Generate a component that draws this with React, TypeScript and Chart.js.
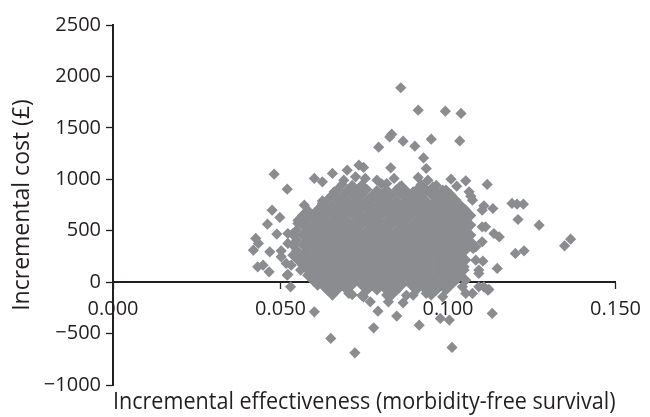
import React, { useEffect, useRef } from 'react';
import { Chart, registerables } from 'chart.js';

Chart.register(...registerables);

// Tick values and labels
const xTickValues = [0, 0.05, 0.1, 0.15];
const xTickLabels = ['0.000', '0.050', '0.100', '0.150'];
const yTickValues = [-1000, -500, 0, 500, 1000, 1500, 2000, 2500];
const yTickLabels = ['\u22121000', '\u2212500', '0', '500', '1000', '1500', '2000', '2500'];

const xTitle = 'Incremental effectiveness (morbidity-free survival)';
const yTitle = 'Incremental cost (£)';

// [incremental effectiveness, incremental cost (£)]
const coreUpper: [number, number][] = [
  [0.0684, 950], [0.0714, 940], [0.0743, 945], [0.0802, 955], [0.0861, 935], [0.0920, 950], [0.0965, 940],
  [0.0670, 900], [0.0699, 890], [0.0729, 895], [0.0758, 900], [0.0788, 890], [0.0817, 895], [0.0847, 900], [0.0876, 885], [0.0906, 895], [0.0935, 900], [0.0965, 890], [0.0994, 895],
  [0.0655, 850], [0.0684, 840], [0.0714, 846], [0.0743, 852], [0.0773, 840], [0.0802, 848], [0.0832, 845], [0.0861, 850], [0.0891, 840], [0.0920, 846], [0.0950, 852], [0.0979, 843], [0.1009, 848],
  [0.0625, 790], [0.0640, 800], [0.0670, 795], [0.0699, 790], [0.0729, 800], [0.0758, 797], [0.0788, 805], [0.0817, 795], [0.0847, 790], [0.0876, 800], [0.0906, 797], [0.0935, 792], [0.0965, 802], [0.0994, 797], [0.1024, 795],
  [0.0625, 750], [0.0655, 745], [0.0684, 752], [0.0714, 748], [0.0743, 745], [0.0773, 750], [0.0802, 748], [0.0832, 744], [0.0861, 752], [0.0891, 748], [0.0920, 745], [0.0950, 750], [0.0979, 748], [0.1009, 752], [0.1038, 745],
  [0.0581, 700], [0.0611, 705], [0.0640, 698], [0.0670, 702], [0.0699, 700], [0.0729, 695], [0.0758, 703], [0.0788, 700], [0.0817, 698], [0.0847, 702], [0.0876, 700], [0.0906, 705], [0.0935, 698], [0.0965, 700], [0.0994, 702], [0.1024, 697], [0.1053, 700],
  [0.0566, 650], [0.0596, 655], [0.0625, 648], [0.0655, 652], [0.0684, 650], [0.0714, 655], [0.0743, 648], [0.0773, 651], [0.0802, 653], [0.0832, 648], [0.0861, 650], [0.0891, 655], [0.0920, 648], [0.0950, 651], [0.0979, 652], [0.1009, 649], [0.1038, 651], [0.1068, 648],
  [0.0552, 600], [0.0581, 605], [0.0611, 602], [0.0640, 598], [0.0670, 604], [0.0699, 600], [0.0729, 603], [0.0758, 606], [0.0788, 600], [0.0817, 598], [0.0847, 603], [0.0876, 605], [0.0906, 600], [0.0935, 602], [0.0965, 598], [0.0994, 604], [0.1024, 603], [0.1053, 600],
  [0.0566, 555], [0.0596, 550], [0.0625, 557], [0.0655, 553], [0.0684, 555], [0.0714, 551], [0.0743, 556], [0.0773, 554], [0.0802, 552], [0.0832, 557], [0.0861, 554], [0.0891, 550], [0.0920, 555], [0.0950, 553], [0.0979, 556], [0.1009, 554], [0.1038, 551], [0.1068, 555],
];

const coreLower: [number, number][] = [
  [0.0548, 505], [0.0581, 502], [0.0611, 507], [0.0640, 505], [0.0670, 503], [0.0699, 506], [0.0729, 505], [0.0758, 500], [0.0788, 507], [0.0817, 505], [0.0847, 502], [0.0876, 506], [0.0906, 505], [0.0935, 503], [0.0965, 508], [0.0994, 505], [0.1024, 502], [0.1053, 506],
  [0.0540, 452], [0.0566, 457], [0.0596, 455], [0.0625, 460], [0.0655, 457], [0.0684, 454], [0.0714, 458], [0.0743, 457], [0.0773, 455], [0.0802, 460], [0.0832, 457], [0.0861, 453], [0.0891, 458], [0.0920, 457], [0.0950, 455], [0.0979, 459], [0.1009, 457], [0.1038, 454], [0.1068, 458],
  [0.0548, 408], [0.0581, 410], [0.0611, 406], [0.0640, 408], [0.0670, 411], [0.0699, 407], [0.0729, 408], [0.0758, 405], [0.0788, 409], [0.0817, 408], [0.0847, 406], [0.0876, 410], [0.0906, 408], [0.0935, 405], [0.0965, 409], [0.0994, 408], [0.1024, 406], [0.1053, 410],
  [0.0537, 360], [0.0566, 362], [0.0596, 358], [0.0625, 360], [0.0655, 363], [0.0684, 359], [0.0714, 360], [0.0743, 357], [0.0773, 361], [0.0802, 360], [0.0832, 358], [0.0861, 362], [0.0891, 360], [0.0920, 357], [0.0950, 361], [0.0979, 360], [0.1009, 358], [0.1038, 362], [0.1062, 360],
  [0.0548, 311], [0.0581, 313], [0.0611, 309], [0.0640, 311], [0.0670, 314], [0.0699, 310], [0.0729, 311], [0.0758, 308], [0.0788, 312], [0.0817, 311], [0.0847, 309], [0.0876, 313], [0.0906, 311], [0.0935, 308], [0.0965, 312], [0.0994, 311], [0.1024, 309], [0.1053, 313],
  [0.0537, 262], [0.0566, 264], [0.0596, 260], [0.0625, 262], [0.0655, 265], [0.0684, 261], [0.0714, 262], [0.0743, 259], [0.0773, 263], [0.0802, 262], [0.0832, 260], [0.0861, 264], [0.0891, 262], [0.0920, 259], [0.0950, 263], [0.0979, 262], [0.1009, 260], [0.1038, 264],
  [0.0552, 214], [0.0581, 216], [0.0611, 212], [0.0640, 214], [0.0670, 217], [0.0699, 213], [0.0729, 214], [0.0758, 211], [0.0788, 215], [0.0817, 214], [0.0847, 212], [0.0876, 216], [0.0906, 214], [0.0935, 211], [0.0965, 215], [0.0994, 214], [0.1024, 212], [0.1053, 216],
  [0.0566, 165], [0.0596, 167], [0.0625, 163], [0.0655, 165], [0.0684, 168], [0.0714, 164], [0.0743, 165], [0.0773, 162], [0.0802, 166], [0.0832, 165], [0.0861, 163], [0.0891, 167], [0.0920, 165], [0.0950, 162], [0.0979, 166], [0.1009, 165], [0.1038, 163],
  [0.0560, 117], [0.0581, 119], [0.0611, 115], [0.0640, 117], [0.0670, 120], [0.0699, 116], [0.0729, 117], [0.0758, 114], [0.0788, 118], [0.0817, 117], [0.0847, 115], [0.0876, 119], [0.0906, 117], [0.0935, 114], [0.0965, 118], [0.0994, 117], [0.1024, 115], [0.1048, 119],
  [0.0581, 68], [0.0596, 70], [0.0625, 66], [0.0655, 68], [0.0684, 71], [0.0714, 67], [0.0743, 68], [0.0773, 65], [0.0802, 69], [0.0832, 68], [0.0861, 66], [0.0891, 70], [0.0920, 68], [0.0950, 65], [0.0979, 69], [0.1009, 68], [0.1038, 66],
  [0.0596, 19], [0.0611, 21], [0.0640, 17], [0.0670, 19], [0.0699, 22], [0.0729, 18], [0.0758, 19], [0.0788, 16], [0.0817, 20], [0.0847, 19], [0.0876, 17], [0.0906, 21], [0.0935, 19], [0.0965, 16], [0.0994, 20], [0.1024, 19],
  [0.0611, -29], [0.0625, -27], [0.0655, -31], [0.0684, -29], [0.0714, -26], [0.0743, -30], [0.0773, -29], [0.0802, -32], [0.0832, -28], [0.0861, -29], [0.0891, -31], [0.0920, -27], [0.0950, -29], [0.0979, -32], [0.1009, -28],
  [0.0640, -78], [0.0670, -75], [0.0699, -80], [0.0758, -78], [0.0788, -76], [0.0817, -80], [0.0847, -78], [0.0906, -75], [0.0935, -80], [0.0965, -78], [0.0994, -76],
  [0.0655, -126], [0.0714, -122], [0.0743, -130], [0.0832, -125], [0.0876, -128], [0.0950, -124],
];

const highPoints: [number, number][] = [
  [0.0859, 1890], [0.0911, 1672], [0.0992, 1662], [0.1039, 1640], [0.0832, 1439], [0.0826, 1412],
  [0.0866, 1371], [0.0901, 1322], [0.0950, 1390], [0.1035, 1373], [0.0793, 1312], [0.0927, 1208],
  [0.0935, 1105], [0.0829, 1111], [0.0911, 1018], [0.0839, 1008], [0.1009, 1001], [0.1026, 933],
  [0.1053, 985], [0.1117, 950], [0.0481, 1050], [0.0601, 1008], [0.0625, 975], [0.0655, 1057],
  [0.0699, 1089], [0.0734, 1137], [0.0748, 1115], [0.0689, 991], [0.0724, 1024], [0.0753, 1008],
  [0.0788, 991], [0.0817, 959], [0.0856, 926], [0.0896, 878], [0.0940, 991], [0.0955, 926],
  [0.0984, 894], [0.1063, 878],
];

const leftPoints: [number, number][] = [
  [0.0520, 904], [0.0660, 878], [0.0475, 700], [0.0498, 629], [0.0461, 564], [0.0489, 467],
  [0.0426, 425], [0.0434, 376], [0.0419, 311], [0.0468, 295], [0.0571, 748], [0.0606, 651],
  [0.0625, 765], [0.0552, 571], [0.0537, 473], [0.0522, 473], [0.0432, 149], [0.0448, 165],
  [0.0466, 100], [0.0522, 75], [0.0530, -46], [0.0502, 304], [0.0502, 246], [0.0517, 182],
  [0.0532, 165], [0.0522, 376], [0.0520, 68],
];

const rightPoints: [number, number][] = [
  [0.1068, 836], [0.1073, 797], [0.1107, 742], [0.1134, 716], [0.1191, 765], [0.1206, 758],
  [0.1225, 758], [0.1209, 609], [0.1272, 554], [0.1366, 418], [0.1348, 353], [0.1201, 279],
  [0.1227, 304], [0.1147, 133], [0.1104, 204], [0.1137, 473], [0.1153, 440], [0.1102, 392],
  [0.1075, 328], [0.1122, -71], [0.1092, -46], [0.1102, 700], [0.1102, 538], [0.1073, 376],
  [0.1083, 343], [0.1048, 149], [0.1092, 117], [0.1053, 19], [0.1107, -46], [0.1112, 538],
  [0.1083, 214], [0.1092, 85],
];

const lowPoints: [number, number][] = [
  [0.0601, -289], [0.0650, -547], [0.0722, -687], [0.0778, -444], [0.0791, -282], [0.0847, -330],
  [0.0914, -418], [0.0977, -353], [0.1004, -369], [0.1012, -635], [0.0866, -201], [0.1132, -304],
  [0.1119, -78], [0.0768, -191], [0.0822, -191], [0.0896, -126], [0.0935, -110], [0.1043, -46],
  [0.1073, -110], [0.0704, -110], [0.0748, -143], [0.0817, -126], [0.0984, -143], [0.1053, -110],
];

const POINT_COLOR = '#8b8c8f';
const AXIS_COLOR = '#231f20';
const FONT_FAMILY = '"Open Sans", "Noto Sans", sans-serif';

export default function App() {
  const ref = useRef<HTMLCanvasElement>(null);

  useEffect(() => {
    document.body.style.margin = '0';
    const all = [...coreUpper, ...coreLower, ...highPoints, ...leftPoints, ...rightPoints, ...lowPoints];
    const tickFont = { family: FONT_FAMILY, size: 20 };
    const yTitleFont = { family: FONT_FAMILY, size: 23 };
    const xTitleFont = { family: FONT_FAMILY, size: 23.5 };
    const chart = new Chart(ref.current as HTMLCanvasElement, {
      type: 'scatter',
      data: {
        datasets: [
          {
            data: all.map(([x, y]) => ({ x, y })),
            pointStyle: 'rectRot',
            pointRadius: 5.6,
            pointHoverRadius: 5.6,
            backgroundColor: POINT_COLOR,
            borderColor: POINT_COLOR,
            borderWidth: 0,
            xAxisID: 'x',
            yAxisID: 'y',
          },
        ],
      },
      options: {
        responsive: false,
        animation: false,
        devicePixelRatio: 1,
        layout: { padding: { top: 25, right: 29, bottom: 0, left: 0 } },
        plugins: { legend: { display: false }, tooltip: { enabled: false } },
        scales: {
          x: {
            type: 'linear',
            position: { y: 0 } as any,
            min: 0,
            max: 0.15,
            afterBuildTicks: (s: any) => {
              s.ticks = xTickValues.map((v) => ({ value: v }));
            },
            ticks: {
              callback: (_v: any, i: number) => xTickLabels[i],
              font: tickFont,
              color: AXIS_COLOR,
              padding: 9,
              maxRotation: 0,
              autoSkip: false,
            },
            grid: {
              display: true,
              drawOnChartArea: false,
              drawTicks: true,
              tickLength: 6,
              tickWidth: 1.3,
              tickColor: AXIS_COLOR,
            },
            border: { display: true, color: AXIS_COLOR, width: 2 },
          },
          x2: {
            type: 'linear',
            position: 'bottom',
            min: 0,
            max: 0.15,
            ticks: { display: false },
            grid: { display: false, drawTicks: false },
            border: { display: false },
            title: {
              display: true,
              text: xTitle,
              font: xTitleFont,
              color: AXIS_COLOR,
              padding: { top: 0, bottom: 1 },
            },
            afterFit: (s: any) => {
              s.height = 32;
            },
          },
          y: {
            type: 'linear',
            position: 'left',
            min: -1000,
            max: 2500,
            afterBuildTicks: (s: any) => {
              s.ticks = yTickValues.map((v) => ({ value: v }));
            },
            ticks: {
              callback: (_v: any, i: number) => yTickLabels[i],
              font: tickFont,
              color: AXIS_COLOR,
              padding: 5,
              autoSkip: false,
            },
            grid: {
              display: true,
              drawOnChartArea: false,
              drawTicks: true,
              tickLength: 7,
              tickWidth: 1.3,
              tickColor: AXIS_COLOR,
            },
            border: { display: true, color: AXIS_COLOR, width: 2 },
            title: {
              display: true,
              text: yTitle,
              font: yTitleFont,
              color: AXIS_COLOR,
              padding: { top: 9, bottom: 0 },
            },
            afterFit: (s: any) => {
              s.width = 113;
            },
          },
        },
      },
    });
    return () => chart.destroy();
  }, []);

  return <canvas ref={ref} width={650} height={417} style={{ display: 'block' }} />;
}
